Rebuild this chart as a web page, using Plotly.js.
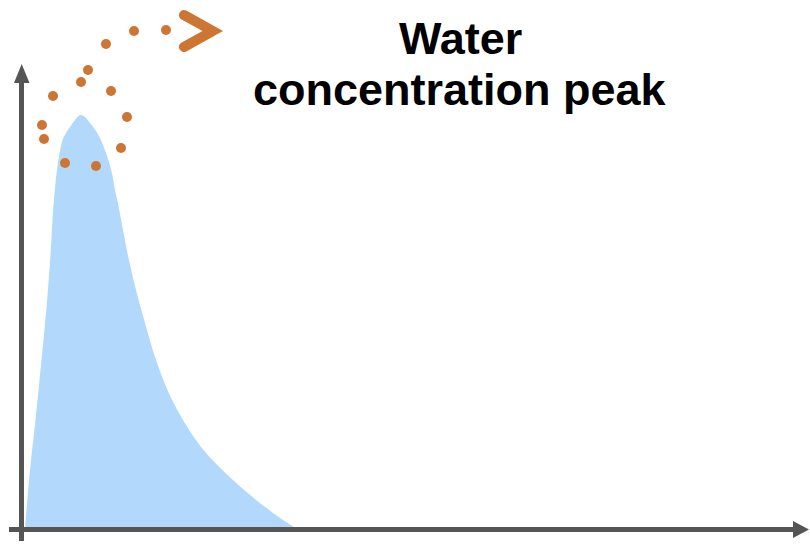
<!DOCTYPE html>
<html>
<head>
<meta charset="utf-8">
<script src="https://cdn.plot.ly/plotly-3.0.1.min.js"></script>
<style>
  html, body { margin: 0; padding: 0; background: #ffffff; }
  #chart { width: 810px; height: 544px; }
</style>
</head>
<body>
<div id="chart"></div>
<script>
// Peak curve (time along x, concentration up y); origin at the axes corner
const curveX = [3, 8, 13.5, 19, 24.3, 28.5, 31.5, 34.7, 37.3, 39, 41.3, 44, 48, 53, 56, 58.7, 61.5, 64, 69.7, 74, 78, 84.7, 89.7, 93, 96.3, 99.7, 106.3, 114, 123, 133, 145.5, 157, 179, 211, 251, 275];
const curveY = [0, 59, 109, 164, 219, 274, 324, 357, 374, 383, 391, 396, 402, 409, 412.5, 414, 413, 411, 404, 398, 391, 374, 357, 339, 324, 306, 272, 239, 206, 172, 139, 116, 82, 49, 16, 0];

// Orange dots (water molecules rising from the peak)
const dotX = [31, 20, 22, 43, 74, 99, 105, 89, 66, 59, 84, 112, 144];
const dotY = [433, 404, 390, 366, 363, 381, 412, 438, 459, 447, 485, 498, 499];

// Title lines
const titleLines = ["Water", "concentration peak"];

const axisColor = "#555555";
const orange = "#cd7533";
const blue = "rgb(178,216,252)";

const traces = [
  {
    x: curveX, y: curveY, type: "scatter", mode: "lines",
    line: { color: blue, width: 0, shape: "spline", smoothing: 1 },
    fill: "tozeroy", fillcolor: blue, hoverinfo: "skip"
  },
  {
    x: dotX, y: dotY, type: "scatter", mode: "markers",
    marker: { color: orange, size: 10, line: { width: 0 } }, hoverinfo: "skip"
  }
];

const chevron = "M 164.4,518.4 L 201,498 L 164.35,477.6 " +
  "C 158.47,474.47 153.77,483.27 159.65,486.4 " +
  "L 180.5,498 L 159.6,509.6 " +
  "C 153.76,512.82 158.56,521.62 164.4,518.4 Z";

const layout = {
  width: 810, height: 544,
  margin: { l: 0, r: 0, t: 0, b: 0, pad: 0 },
  paper_bgcolor: "#ffffff", plot_bgcolor: "#ffffff",
  showlegend: false,
  xaxis: { range: [-22, 788], visible: false, fixedrange: true },
  yaxis: { range: [-15, 529], visible: false, fixedrange: true },
  shapes: [
    { type: "line", xref: "x", yref: "y", x0: -0.5, x1: -0.5, y0: -12, y1: 449,
      line: { color: axisColor, width: 5 } },
    { type: "path", xref: "x", yref: "y", path: "M -0.3,465 L 7.5,446 L -8,446 Z",
      fillcolor: axisColor, line: { width: 0 } },
    { type: "line", xref: "x", yref: "y", x0: -13, x1: 773, y0: -0.5, y1: -0.5,
      line: { color: axisColor, width: 5 } },
    { type: "path", xref: "x", yref: "y", path: "M 787,-0.5 L 771,8 L 771,-9 Z",
      fillcolor: axisColor, line: { width: 0 } },
    { type: "path", xref: "x", yref: "y", path: chevron,
      fillcolor: orange, line: { width: 0 } }
  ],
  annotations: [
    { text: titleLines[0], xref: "x", yref: "y", x: 438, y: 491, xanchor: "center", yanchor: "middle",
      showarrow: false, font: { family: "Liberation Sans, Arial, sans-serif", size: 45, color: "#000000", weight: "bold" } },
    { text: titleLines[1], xref: "x", yref: "y", x: 438, y: 440, xanchor: "center", yanchor: "middle",
      showarrow: false, font: { family: "Liberation Sans, Arial, sans-serif", size: 45, color: "#000000", weight: "bold" } }
  ]
};

Plotly.newPlot("chart", traces, layout, { staticPlot: true, displayModeBar: false });
</script>
</body>
</html>
